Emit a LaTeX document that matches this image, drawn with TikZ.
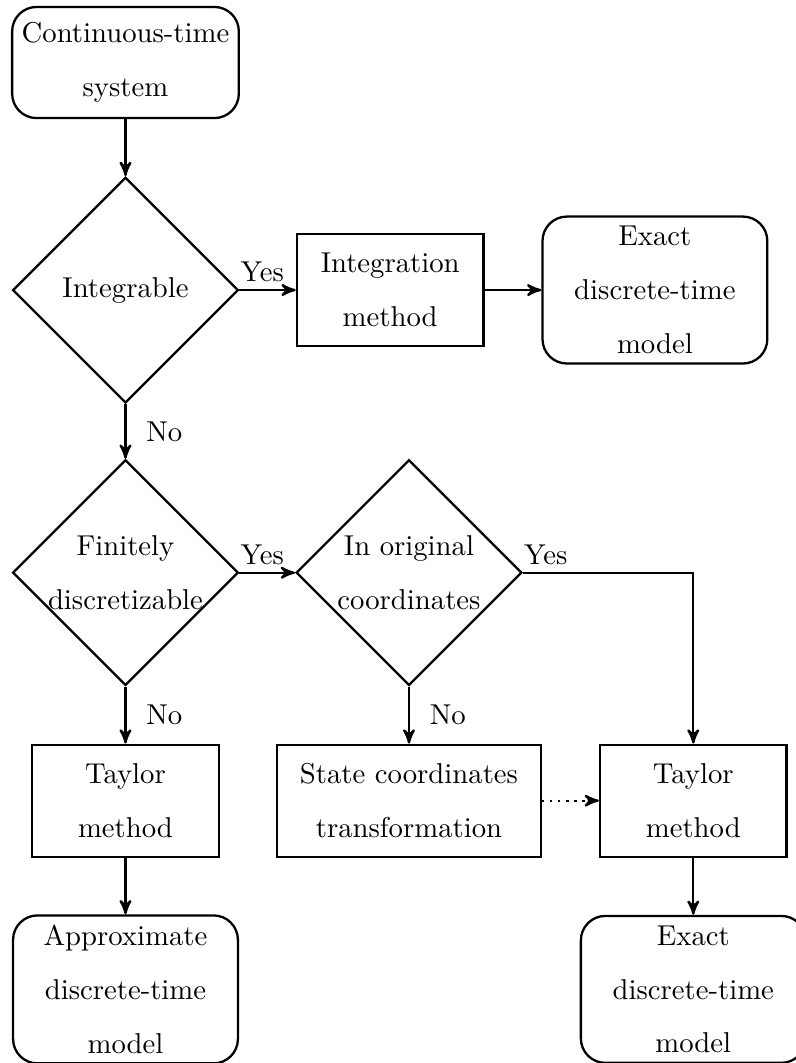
\documentclass[tikz,border=0pt]{standalone}
\usetikzlibrary{shapes.geometric, positioning, arrows}

\tikzset{
  term/.style={draw, thick, rectangle, rounded corners=8.5pt, minimum width=78.3pt,
    minimum height=38.7pt, align=center, font=\fontsize{10}{18.8}\selectfont},
  proc/.style={draw, thick, rectangle, minimum width=65pt, minimum height=39pt,
    inner xsep=8pt, align=center, font=\fontsize{10}{18.8}\selectfont},
  decision/.style={draw, thick, diamond, aspect=1, minimum width=78.6pt,
    minimum height=78.6pt, inner sep=-4pt, align=center, font=\fontsize{10}{18.8}\selectfont},
  yes/.style={pos=0, anchor=south west, inner xsep=0pt, inner ysep=2.5pt},
  no/.style={right, xshift=3.5pt}
}

\begin{document}
\begin{tikzpicture}[>=stealth', thick, on grid]
  \useasboundingbox (-1.536,0.765) rectangle (8.195,-12.246);

  \node[term] (cont) {Continuous-time\\system};
  \node[decision] (integ) [below=2.785cm of cont] {Integrable};
  \node[proc] (intm) [right=3.24cm of integ] {Integration\\method};
  \node[term] (exact1) [right=3.24cm of intm] {Exact\\discrete-time\\model};
  \node[decision] (finit) [below=3.46cm of integ] {Finitely\\discretizable};
  \node[decision] (orig) [right=3.47cm of finit] {In original\\coordinates};
  \node[proc] (taylor1) [below=2.79cm of finit] {Taylor\\method};
  \node[proc] (state) [below=2.79cm of orig] {State coordinates\\transformation};
  \node[proc] (taylor2) [right=3.48cm of state] {Taylor\\method};
  \node[term] (approx) [below=2.31cm of taylor1] {Approximate\\discrete-time\\model};
  \node[term] (exact2) [below=2.31cm of taylor2] {Exact\\discrete-time\\model};

  \path[->]
  (cont) edge (integ)
  (integ) edge node[yes] {Yes} (intm)
  (intm) edge (exact1)
  (integ) edge node[no] {No} (finit)
  (finit) edge node[yes] {Yes} (orig)
  (finit) edge node[no] {No} (taylor1)
  (orig) edge node[no] {No} (state)
  (state) edge[dotted] (taylor2)
  (taylor1) edge (approx)
  (taylor2) edge (exact2);

  \draw[->] (orig.east) -| node[yes] {Yes} (taylor2.north);
\end{tikzpicture}
\end{document}
